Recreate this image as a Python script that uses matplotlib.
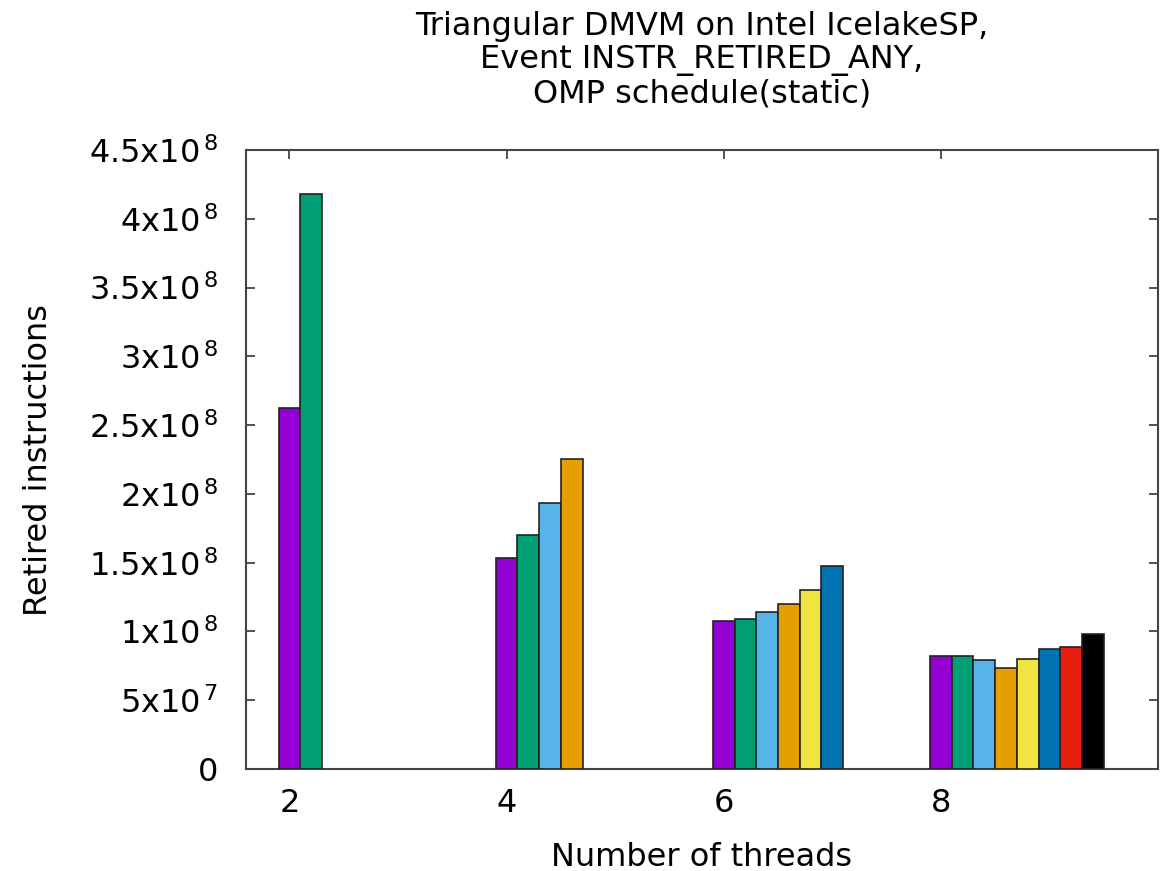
import numpy as np
import matplotlib.pyplot as plt

plt.rcParams['font.family'] = ['DejaVu Sans']
plt.rcParams['mathtext.fontset'] = 'dejavusans'

# data (retired instructions per thread)
threads = [2, 4, 6, 8]
values = {
    2: [2.623e8, 4.178e8],
    4: [1.531e8, 1.700e8, 1.935e8, 2.253e8],
    6: [1.073e8, 1.088e8, 1.141e8, 1.201e8, 1.303e8, 1.478e8],
    8: [0.819e8, 0.819e8, 0.792e8, 0.734e8, 0.802e8, 0.872e8, 0.889e8, 0.983e8],
}
colors = ['#9400d3', '#009e73', '#56b4e9', '#e69f00',
          '#f0e442', '#0072b2', '#e51e10', '#000000']
yticks = [0, 0.5e8, 1e8, 1.5e8, 2e8, 2.5e8, 3e8, 3.5e8, 4e8, 4.5e8]
ylabels = ['0', '5x10$^{\\,7}$', '1x10$^{\\,8}$', '1.5x10$^{\\,8}$', '2x10$^{\\,8}$',
           '2.5x10$^{\\,8}$', '3x10$^{\\,8}$', '3.5x10$^{\\,8}$', '4x10$^{\\,8}$', '4.5x10$^{\\,8}$']

bw = 0.2

fig = plt.figure(figsize=(11.63, 8.71), dpi=100)
ax = fig.add_axes([246/1163, 1-769/871, 912/1163, 619/871])

for t in threads:
    vals = values[t]
    xs = t + bw*np.arange(len(vals))
    ax.bar(xs, vals, width=bw, color=colors[:len(vals)],
           edgecolor='#222222', linewidth=1.2, zorder=3)

ax.set_xlim(1.6, 10)
ax.set_ylim(0, 4.5e8)
ax.set_xticks(threads)
ax.set_xticklabels([str(t) for t in threads])
ax.set_yticks(yticks)
ax.set_yticklabels(ylabels)

ax.tick_params(direction='in', length=6.5, width=1.2, color='#333333',
               top=True, right=True, labelsize=23)
ax.tick_params(axis='x', pad=14)
ax.tick_params(axis='y', pad=20)
for s in ax.spines.values():
    s.set_linewidth(1.5)
    s.set_color('#444444')

ax.set_xlabel('Number of threads', fontsize=23, labelpad=16)
ax.set_ylabel('Retired instructions', fontsize=23)
ax.yaxis.set_label_coords(-0.21, 0.5)
ax.set_title('Triangular DMVM on Intel IcelakeSP,\nEvent INSTR_RETIRED_ANY,\nOMP schedule(static)',
             fontsize=23, pad=34, linespacing=1.1)

fig.savefig('out.png', dpi=100)
